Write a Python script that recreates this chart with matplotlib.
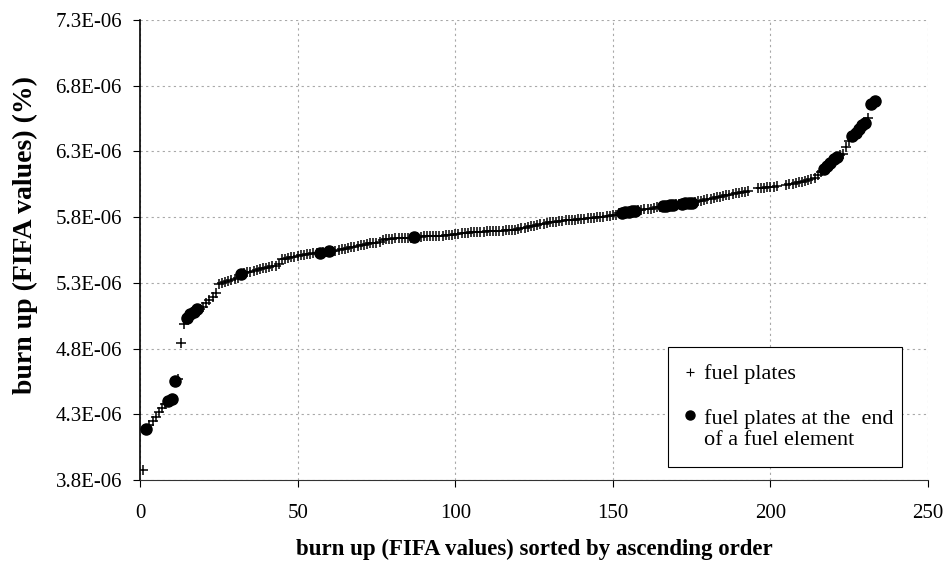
import numpy as np
import matplotlib
matplotlib.use("Agg")
import matplotlib.pyplot as plt
from matplotlib.lines import Line2D
from matplotlib.legend_handler import HandlerLine2D

# burn-up values (units of 1E-06 %) for ranks 1..233, NaN = no plate at that rank
burnup = [
    3.876, 4.19, 4.22, 4.25, 4.28, 4.32, 4.35, 4.38, 4.40, 4.42,
    4.55, 4.57, 4.84, 4.99, 5.03, 5.06, 5.08, 5.10, 5.10, 5.12,
    5.15, 5.17, 5.19, 5.22, 5.29, 5.30, 5.31, 5.315, 5.32, 5.33,
    5.34, 5.37, 5.375, 5.38, 5.385, 5.39, 5.40, 5.405, 5.41, 5.415,
    5.42, 5.425, 5.43, 5.44, 5.48, 5.485, 5.49, 5.495, 5.50, 5.505,
    5.51, 5.515, 5.52, 5.52, 5.525, 5.53, 5.53, 5.535, 5.535, 5.54,
    5.54, 5.545, 5.55, 5.555, 5.56, 5.565, 5.57, 5.575, 5.58, 5.585,
    5.59, 5.595, 5.60, 5.60, 5.605, 5.61, 5.625, 5.63, 5.635, 5.635,
    5.64, 5.64, 5.64, 5.645, 5.645, 5.645, 5.65, 5.65, 5.65, 5.655,
    5.655, 5.655, 5.66, 5.66, 5.66, 5.66, 5.662, 5.665, 5.665, 5.67,
    5.675, 5.68, 5.68, 5.682, 5.684, 5.686, 5.688, 5.69, 5.69, 5.692,
    5.694, 5.695, 5.696, 5.697, 5.698, 5.70, 5.70, 5.70, 5.705, 5.71,
    5.715, 5.72, 5.725, 5.73, 5.735, 5.74, 5.745, 5.75, 5.755, 5.76,
    5.762, 5.765, 5.768, 5.77, 5.775, 5.777, 5.78, 5.782, 5.784, 5.786,
    5.788, 5.79, 5.793, 5.795, 5.798, 5.80, 5.803, 5.806, 5.81, 5.815,
    5.82, 5.83, 5.835, 5.84, 5.842, 5.845, 5.85, 5.852, 5.855, 5.86,
    5.862, 5.865, 5.87, 5.875, 5.88, 5.885, 5.888, 5.89, 5.893, 5.897,
    5.90, 5.902, 5.905, 5.908, 5.91, 5.915, 5.92, 5.925, 5.93, 5.935,
    5.94, 5.945, 5.95, 5.955, 5.96, 5.965, 5.97, 5.975, 5.98, 5.985,
    5.99, 5.995, 6.00, np.nan, np.nan, 6.02, 6.022, 6.025, 6.027, 6.03,
    6.032, 6.035, np.nan, np.nan, 6.045, 6.05, 6.055, 6.06, 6.065, 6.07,
    6.075, 6.08, 6.09, 6.10, 6.12, 6.14, 6.17, 6.19, 6.21, 6.24,
    6.26, 6.27, 6.28, 6.33, 6.38, 6.42, 6.44, 6.47, 6.50, 6.52,
    6.555, 6.66, 6.68,
]
# ranks of plates at the end of a fuel element
end_ranks = [2, 9, 10, 11, 15, 16, 17, 18, 32, 57, 60, 87,
             153, 154, 155, 156, 157, 166, 167, 168, 169, 172, 173, 174, 175,
             217, 218, 219, 220, 221, 226, 227, 228, 229, 230, 232, 233]

y_ticks = [3.8, 4.3, 4.8, 5.3, 5.8, 6.3, 6.8, 7.3]
y_tick_labels = ["3.8E-06", "4.3E-06", "4.8E-06", "5.3E-06",
                 "5.8E-06", "6.3E-06", "6.8E-06", "7.3E-06"]
x_ticks = [0, 50, 100, 150, 200, 250]

plt.rcParams['font.family'] = ['Liberation Serif', 'DejaVu Serif']

ranks = np.arange(1, len(burnup) + 1)
vals = np.array(burnup, dtype=float) * 1e-6
end_idx = np.array(end_ranks) - 1

fig = plt.figure(figsize=(9.48, 5.73), dpi=100)
ax = fig.add_axes([0.1477, 0.1623, 0.8313, 0.8028])

ax.plot(ranks, vals, linestyle='none', marker='+', color='black',
        markersize=7.5, markeredgewidth=1.1, zorder=3)
ax.plot(ranks[end_idx], vals[end_idx], linestyle='none', marker='o',
        color='black', markersize=8, zorder=4)

ax.set_xlim(0, 250)
ax.set_ylim(3.8e-6, 7.3e-6)
ax.set_xticks(x_ticks)
ax.set_yticks([v * 1e-6 for v in y_ticks])
ax.set_yticklabels(y_tick_labels)

ax.grid(True, color='#a8a8a8', linestyle=(0, (2, 3)), linewidth=0.8)
ax.set_axisbelow(True)

for s in ['top', 'right']:
    ax.spines[s].set_visible(False)
ax.spines['left'].set_linewidth(1.2)
ax.spines['bottom'].set_linewidth(0.8)
ax.spines['bottom'].set_color('#333333')

ax.tick_params(axis='both', labelsize=15, direction='out', length=5, width=0.8)
ax.tick_params(axis='x', pad=12)
ax.tick_params(axis='y', pad=8)

ax.set_xlabel("burn up (FIFA values) sorted by ascending order",
              fontsize=16.5, fontweight='bold', labelpad=12)
ax.set_ylabel("burn up (FIFA values) (%)", fontsize=20, fontweight='bold')
ax.yaxis.set_label_coords(-0.13, 0.533)


class TopLineHandler(HandlerLine2D):
    """Put the marker level with the first line of a two-line label."""
    def create_artists(self, legend, orig_handle, xdescent, ydescent,
                       width, height, fontsize, trans):
        arts = super().create_artists(legend, orig_handle, xdescent, ydescent,
                                      width, height, fontsize, trans)
        for a in arts:
            a.set_ydata(np.asarray(a.get_ydata(), dtype=float) + 0.6 * fontsize)
        return arts


h_plus = Line2D([], [], linestyle='none', marker='+', color='black',
                markersize=6, markeredgewidth=0.8)
h_dot = Line2D([], [], linestyle='none', marker='o', color='black',
               markersize=6.5)
labels = ["fuel plates", "fuel plates at the  end\nof a fuel element"]
leg = ax.legend([h_plus, h_dot], labels, loc='lower left',
                bbox_to_anchor=(0.670, 0.028, 0.297, 0.265), mode='expand',
                fontsize=16, frameon=True, fancybox=False, framealpha=1,
                edgecolor='black', handlelength=0.5, handletextpad=0.35,
                labelspacing=1.1, borderpad=0.75, borderaxespad=0,
                handler_map={h_dot: TopLineHandler()})
leg.get_frame().set_linewidth(0.8)

fig.savefig("out.png", dpi=100)
